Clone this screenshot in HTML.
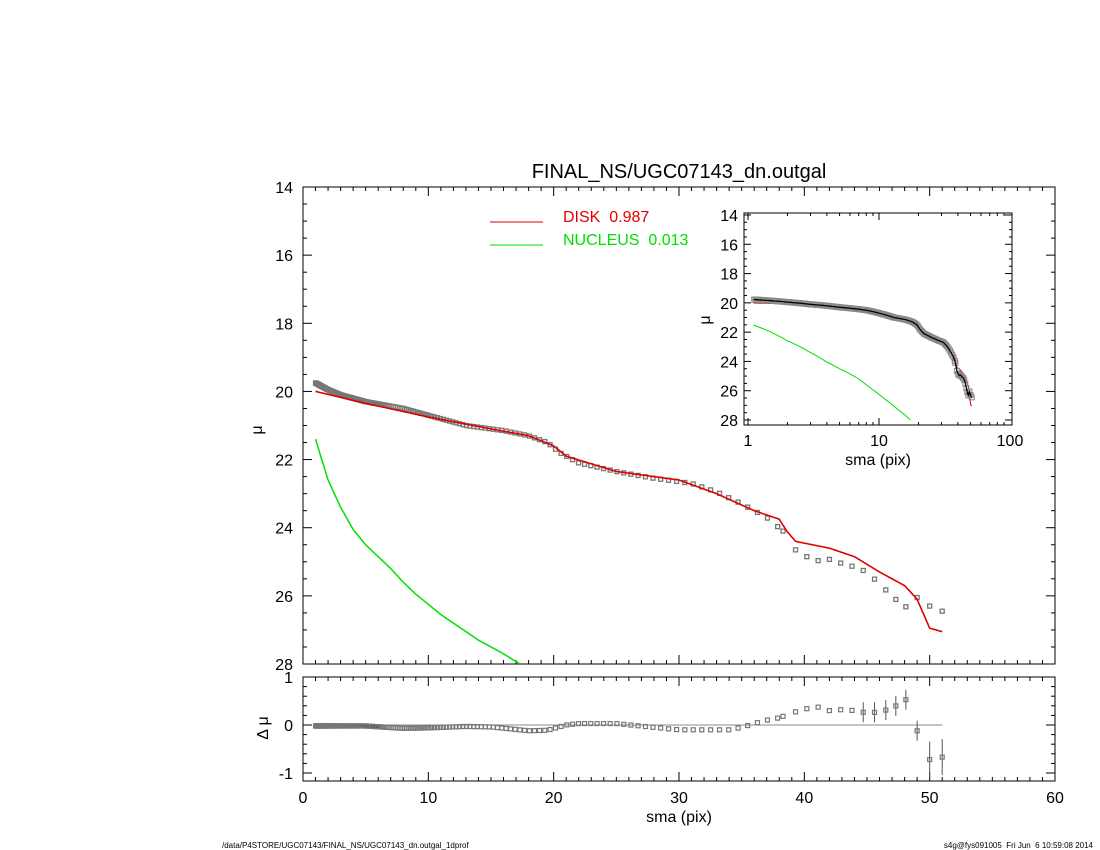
<!DOCTYPE html>
<html><head><meta charset="utf-8"><style>
html,body{margin:0;padding:0;background:#fff}
svg{display:block}
text{font-family:"Liberation Sans",sans-serif;white-space:pre}
</style></head><body>
<svg id="s" width="1100" height="850" xmlns="http://www.w3.org/2000/svg"></svg>
<script>
const s=document.getElementById('s');let h='';
const X=x=>303+x*(752/60), Y=m=>187+(m-14)*(477/14), R=d=>725-d*48;
function interp(t,x){for(let i=0;i<t.length-1;i++){if(x<=t[i+1][0]){const a=t[i],b=t[i+1];return a[1]+(b[1]-a[1])*(x-a[0])/(b[0]-a[0]);}}return t[t.length-1][1];}
const obs=[[1,19.75],[2,19.95],[3,20.1],[5,20.3],[8,20.5],[10,20.7],[13,21.0],[16,21.15],[18,21.3],[19.5,21.5],[20.5,21.8],[22,22.1],[25,22.35],[28,22.55],[31,22.7],[33,22.95],[35,23.3],[37,23.7],[38.3,24.1],[39.3,24.65],[40.2,24.85],[41,24.97],[42,24.93],[43,25.05],[44,25.15],[45,25.3],[46,25.65],[47,26.0],[48,26.35],[49,26.05],[50,26.3],[51,26.45]];
const mod=[[1,20.0],[5,20.35],[10,20.75],[15,21.1],[18,21.3],[20,21.6],[21,21.9],[25,22.35],[30,22.6],[33,23.0],[36,23.5],[38,23.75],[38.6,24.1],[39.3,24.4],[42,24.6],[44,24.85],[46,25.3],[47,25.5],[48,25.7],[49,26.1],[50,26.95],[51,27.05]];
const grn=[[1,21.4],[2,22.6],[3,23.4],[4,24.05],[5,24.5],[6,24.85],[7,25.2],[8,25.6],[9,25.95],[10,26.25],[11,26.55],[12,26.8],[13,27.05],[14,27.3],[15,27.5],[16,27.7],[17.3,28]];
const res=[[1,-0.02],[5,-0.02],[8,-0.07],[10,-0.06],[13,-0.03],[15,-0.04],[18,-0.12],[19.5,-0.11],[21,0.0],[22,0.03],[25,0.03],[28,-0.05],[30,-0.1],[34,-0.1],[35,-0.05],[36,0.03],[37,0.1],[38,0.15],[39,0.25],[40,0.33],[41,0.38],[42,0.3],[43,0.32],[44,0.3],[45,0.25],[46,0.27],[47,0.35],[47.5,0.43],[48,0.6],[49,-0.12],[50,-0.72],[51,-0.67]];
let xs=[];for(let x=1;x<38.3;x=x*1.022){xs.push(x);}
[38.3,39.3,40.2,41.1,42,42.9,43.8,44.7,45.6,46.5,47.3,48.1,49,50,51].forEach(x=>xs.push(x));
h+=`<defs><clipPath id="ci"><rect x="744" y="213" width="268" height="212"/></clipPath><clipPath id="cm"><rect x="303" y="187" width="752" height="477"/></clipPath></defs>`;
h+=`<text x="679" y="178" font-size="20" text-anchor="middle">FINAL_NS/UGC07143_dn.outgal</text>`;
h+=`<rect x="303" y="187" width="752" height="477" fill="none" stroke="#000" stroke-width="1"/>`;
h+=`<rect x="303" y="677" width="752" height="104" fill="none" stroke="#000" stroke-width="1"/>`;
for(let i=0;i<=60;i++){const x=X(i),L=i%10==0?9:4;
h+=`<line x1="${x}" y1="664" x2="${x}" y2="${664-L}" stroke="#000"/><line x1="${x}" y1="187" x2="${x}" y2="${187+L}" stroke="#000"/>`;
h+=`<line x1="${x}" y1="781" x2="${x}" y2="${781-L}" stroke="#000"/><line x1="${x}" y1="677" x2="${x}" y2="${677+L}" stroke="#000"/>`;
if(i%10==0)h+=`<text x="${x}" y="803" font-size="16" text-anchor="middle">${i}</text>`;}
h+=`<text x="679" y="822" font-size="16" text-anchor="middle">sma (pix)</text>`;
for(let m=14;m<=28.001;m+=0.5){const y=Y(m),L=(Math.abs(m%2)<1e-6)?9:4;
h+=`<line x1="303" y1="${y}" x2="${303+L}" y2="${y}" stroke="#000"/><line x1="1055" y1="${y}" x2="${1055-L}" y2="${y}" stroke="#000"/>`;
if(L==9)h+=`<text x="293" y="${y+6}" font-size="16" text-anchor="end">${m}</text>`;}
h+=`<text x="262" y="430" font-size="16" text-anchor="middle" transform="rotate(-90 262 430)">μ</text>`;
for(let d=-1;d<=1.001;d+=0.2){const y=R(d),L=Math.abs(Math.round(d)-d)<1e-6?9:4;
h+=`<line x1="303" y1="${y}" x2="${303+L}" y2="${y}" stroke="#000"/><line x1="1055" y1="${y}" x2="${1055-L}" y2="${y}" stroke="#000"/>`;
if(L==9)h+=`<text x="293" y="${y+6}" font-size="16" text-anchor="end">${Math.round(d)}</text>`;}
h+=`<text x="268" y="728" font-size="16" text-anchor="middle" transform="rotate(-90 268 728)">Δ μ</text>`;
h+=`<line x1="${X(1)}" y1="725" x2="${X(51)}" y2="725" stroke="#888"/>`;
const pl=(t,fx,fy,c,w,x0,x1,st)=>{let p=[];for(let x=x0;x<=x1+1e-9;x+=st)p.push(fx(x).toFixed(1)+','+fy(interp(t,x)).toFixed(1));return `<polyline points="${p.join(' ')}" fill="none" stroke="${c}" stroke-width="${w}" stroke-linejoin="round"/>`;};
h+=`<g clip-path="url(#cm)">`;
h+=pl(grn,X,Y,'#00e000',1.5,1,17.3,0.1);
xs.forEach(x=>{const cx=X(x),cy=Y(interp(obs,x));h+=`<rect x="${cx-2}" y="${cy-2}" width="4" height="4" fill="none" stroke="#777" stroke-width="1.3"/>`;});
h+=pl(mod,X,Y,'#e00000',1.6,1,51,0.1);
h+=`</g>`;
xs.forEach(x=>{const cx=X(x),cy=R(interp(res,x));if(x>44){const e=x>49?18:10;h+=`<line x1="${cx}" y1="${cy-e}" x2="${cx}" y2="${cy+e}" stroke="#555"/>`;}h+=`<rect x="${cx-2}" y="${cy-2}" width="4" height="4" fill="${x<6?'#333':'none'}" stroke="#777" stroke-width="1.2"/>`;});
h+=`<line x1="490" y1="222" x2="543" y2="222" stroke="#e00000"/><text x="563" y="222" font-size="16" fill="#e00000" xml:space="preserve">DISK  0.987</text>`;
h+=`<line x1="490" y1="245" x2="543" y2="245" stroke="#00e000"/><text x="563" y="245" font-size="16" fill="#00e000" xml:space="preserve">NUCLEUS  0.013</text>`;
const IX=x=>748+Math.log10(x)*131, IY=m=>215+(m-14)*(205/14);
h+=`<rect x="744" y="213" width="268" height="212" fill="#fff" stroke="#000"/>`;
for(let d=0;d<2;d++)for(let k=1;k<10;k++){const v=k*Math.pow(10,d),x=IX(v);if(x<744)continue;const L=k==1?7:3;h+=`<line x1="${x}" y1="425" x2="${x}" y2="${425-L}" stroke="#000"/><line x1="${x}" y1="213" x2="${x}" y2="${213+L}" stroke="#000"/>`;}
[[1,'1'],[10,'10'],[100,'100']].forEach(([v,t])=>h+=`<text x="${IX(v)}" y="446" font-size="16" text-anchor="middle">${t}</text>`);
h+=`<text x="878" y="465" font-size="16" text-anchor="middle">sma (pix)</text>`;
for(let m=14;m<=28.001;m+=0.5){const y=IY(m),L=m%2==0?7:3;h+=`<line x1="744" y1="${y}" x2="${744+L}" y2="${y}" stroke="#000"/><line x1="1012" y1="${y}" x2="${1012-L}" y2="${y}" stroke="#000"/>`;if(m%2==0)h+=`<text x="738" y="${y+6}" font-size="16" text-anchor="end">${m}</text>`;}
h+=`<text x="710" y="320" font-size="16" text-anchor="middle" transform="rotate(-90 710 320)">μ</text>`;
h+=`<g clip-path="url(#ci)">`;
h+=pl(grn,IX,IY,'#00e000',1,1.1,17.3,0.1);
h+=pl(mod,IX,IY,'#e00000',1,1.1,51,0.1);
xs.forEach(x=>{if(x<1.1)return;const cx=IX(x),cy=IY(interp(obs,x));h+=`<rect x="${cx-2.5}" y="${cy-2.5}" width="5" height="5" fill="none" stroke="#888" stroke-width="1"/>`;});
h+=pl(obs,IX,IY,'#000',1.3,1.1,51,0.1);
h+=`</g>`;
h+=`<text x="222" y="848" font-size="8">/data/P4STORE/UGC07143/FINAL_NS/UGC07143_dn.outgal_1dprof</text>`;
h+=`<text x="1093" y="848" font-size="8" text-anchor="end" xml:space="preserve">s4g@fys091005  Fri Jun  6 10:59:08 2014</text>`;
s.innerHTML=h;
</script>
</body></html>
